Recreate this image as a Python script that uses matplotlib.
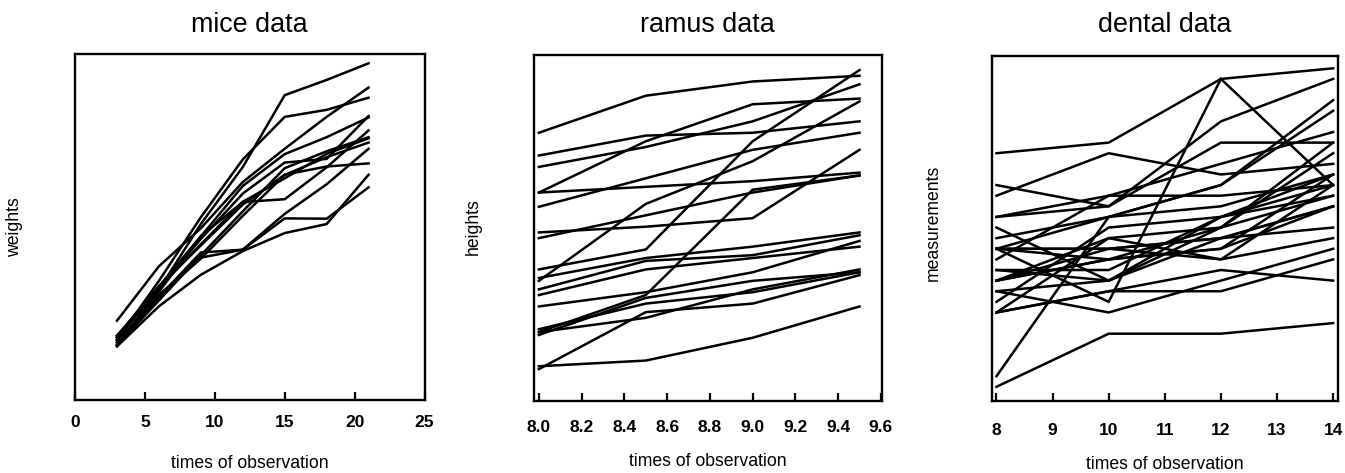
import matplotlib
matplotlib.use("Agg")
import matplotlib.pyplot as plt

plt.rcParams['font.family'] = ['Liberation Sans', 'DejaVu Sans']

# ---------------- data ----------------
mice_times = [3, 6, 9, 12, 15, 18, 21]
mice_weights = [
    [0.190, 0.388, 0.621, 0.823, 1.078, 1.132, 1.191],
    [0.218, 0.393, 0.568, 0.729, 0.839, 0.852, 1.004],
    [0.211, 0.394, 0.549, 0.700, 0.783, 0.870, 0.925],
    [0.209, 0.419, 0.645, 0.850, 1.001, 1.026, 1.069],
    [0.193, 0.362, 0.520, 0.530, 0.641, 0.640, 0.751],
    [0.201, 0.361, 0.502, 0.530, 0.657, 0.762, 0.888],
    [0.202, 0.370, 0.498, 0.650, 0.795, 0.858, 0.910],
    [0.190, 0.350, 0.510, 0.666, 0.819, 0.879, 0.929],
    [0.219, 0.399, 0.578, 0.699, 0.709, 0.822, 0.953],
    [0.225, 0.400, 0.545, 0.690, 0.796, 0.825, 0.836],
    [0.224, 0.381, 0.577, 0.756, 0.869, 0.929, 0.999],
    [0.187, 0.329, 0.441, 0.525, 0.589, 0.621, 0.796],
    [0.278, 0.471, 0.606, 0.770, 0.888, 1.001, 1.105],
]

ramus_times = [8.0, 8.5, 9.0, 9.5]
ramus_heights = [
    [47.8, 48.8, 49.0, 49.7],
    [46.4, 47.3, 47.7, 48.4],
    [46.3, 46.8, 47.8, 48.5],
    [45.1, 45.3, 46.1, 47.2],
    [47.6, 48.5, 48.9, 49.3],
    [52.5, 53.2, 53.3, 53.7],
    [51.2, 53.0, 54.3, 54.5],
    [49.8, 50.0, 50.3, 52.7],
    [48.1, 50.8, 52.3, 54.4],
    [45.0, 47.0, 47.3, 48.3],
    [51.2, 51.4, 51.6, 51.9],
    [48.5, 49.2, 53.0, 55.5],
    [52.1, 52.8, 53.7, 55.0],
    [48.2, 48.9, 49.3, 49.8],
    [49.6, 50.4, 51.2, 51.8],
    [50.7, 51.7, 52.7, 53.3],
    [47.2, 47.7, 48.4, 49.5],
    [53.3, 54.6, 55.1, 55.3],
    [46.2, 47.5, 48.1, 48.4],
    [46.3, 47.6, 51.3, 51.8],
]

dental_times = [8, 10, 12, 14]
dental_girls = [
    [21.0, 20.0, 21.5, 23.0],
    [21.0, 21.5, 24.0, 25.5],
    [20.5, 24.0, 24.5, 26.0],
    [23.5, 24.5, 25.0, 26.5],
    [21.5, 23.0, 22.5, 23.5],
    [20.0, 21.0, 21.0, 22.5],
    [21.5, 22.5, 23.0, 25.0],
    [23.0, 23.0, 23.5, 24.0],
    [20.0, 21.0, 22.0, 21.5],
    [16.5, 19.0, 19.0, 19.5],
    [24.5, 25.0, 28.0, 28.0],
]
dental_boys = [
    [26.0, 25.0, 29.0, 31.0],
    [21.5, 22.5, 23.0, 26.5],
    [23.0, 22.5, 24.0, 27.5],
    [25.5, 27.5, 26.5, 27.0],
    [20.0, 23.5, 22.5, 26.0],
    [24.5, 25.5, 27.0, 28.5],
    [22.0, 22.0, 24.5, 26.5],
    [24.0, 21.5, 24.5, 25.5],
    [23.0, 20.5, 31.0, 26.0],
    [27.5, 28.0, 31.0, 31.5],
    [23.0, 23.0, 23.5, 25.0],
    [21.5, 23.5, 24.0, 28.0],
    [17.0, 24.5, 26.0, 29.5],
    [22.5, 25.5, 25.5, 26.0],
    [23.0, 24.5, 26.0, 30.0],
    [22.0, 21.5, 23.5, 25.0],
]

titles = ["mice data", "ramus data", "dental data"]
ylabels = ["weights", "heights", "measurements"]
xlabel = "times of observation"
mice_ticks = [0, 5, 10, 15, 20, 25]
ramus_ticks = [8.0, 8.2, 8.4, 8.6, 8.8, 9.0, 9.2, 9.4, 9.6]
dental_ticks = [8, 9, 10, 11, 12, 13, 14]

# ---------------- figure ----------------
W, H = 1345, 473
fig = plt.figure(figsize=(W / 100, H / 100), dpi=100)

def px_axes(x0, x1, y0, y1):
    return fig.add_axes([x0 / W, 1 - y1 / H, (x1 - x0) / W, (y1 - y0) / H])

ax1 = px_axes(75, 424.5, 54, 400)
ax2 = px_axes(534, 881.5, 55, 401)
ax3 = px_axes(991.5, 1337.5, 56, 401)

LW = 1.8
for row in mice_weights:
    ax1.plot(mice_times, row, color='black', lw=LW, solid_joinstyle='miter')
for row in ramus_heights:
    ax2.plot(ramus_times, row, color='black', lw=LW, solid_joinstyle='miter')
for row in dental_girls + dental_boys:
    ax3.plot(dental_times, row, color='black', lw=LW, solid_joinstyle='miter')

ax1.set_xlim(0, 25)
ax1.set_ylim(-0.003, 1.224)
ax2.set_xlim(7.977, 9.603)
ax2.set_ylim(43.88, 56.03)
ax3.set_xlim(7.911, 14.078)
ax3.set_ylim(15.83, 32.08)

ax1.set_xticks(mice_ticks)
ax1.set_xticklabels([str(t) for t in mice_ticks])
ax2.set_xticks(ramus_ticks)
ax2.set_xticklabels([f"{t:.1f}" for t in ramus_ticks])
ax3.set_xticks(dental_ticks)
ax3.set_xticklabels([str(t) for t in dental_ticks])

pads = [10.7, 13.5, 15.7]
for ax, pad in zip([ax1, ax2, ax3], pads):
    ax.set_yticks([])
    for s in ax.spines.values():
        s.set_linewidth(1.7)
        s.set_color('black')
    ax.tick_params(axis='x', direction='in', length=5.5, width=1.6,
                   pad=pad, labelsize=12.5)
    for lab in ax.get_xticklabels():
        lab.set_fontweight('bold')

# titles
for cx, t in zip([249.7, 707.7, 1164.5], titles):
    fig.text(cx / W, 1 - 32 / H, t, ha='center', va='baseline', fontsize=19.4)

# x labels
for cx, by in zip([249.7, 707.7, 1164.5], [468, 466, 469]):
    fig.text(cx / W, 1 - by / H, xlabel, ha='center', va='baseline', fontsize=12.7)

# y labels
for cx, cy, t in zip([15, 473, 933], [227, 227, 223], ylabels):
    fig.text(cx / W, 1 - cy / H, t, ha='center', va='center', rotation=90,
             fontsize=12.7)

fig.savefig("out.png", dpi=100)
